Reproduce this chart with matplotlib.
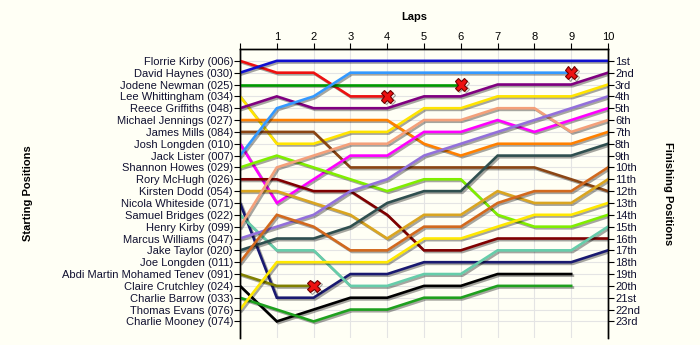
import numpy as np
import matplotlib
matplotlib.use('Agg')
import matplotlib.pyplot as plt
import matplotlib.patheffects as pe

plt.rcParams['font.family'] = ['Liberation Sans', 'DejaVu Sans']

laps = list(range(11))

names = ['Florrie Kirby (006)', 'David Haynes (030)', 'Jodene Newman (025)', 'Lee Whittingham (034)',
         'Reece Griffiths (048)', 'Michael Jennings (027)', 'James Mills (084)', 'Josh Longden (010)',
         'Jack Lister (007)', 'Shannon Howes (029)', 'Rory McHugh (026)', 'Kirsten Dodd (054)',
         'Nicola Whiteside (071)', 'Samuel Bridges (022)', 'Henry Kirby (099)', 'Marcus Williams (047)',
         'Jake Taylor (020)', 'Joe Longden (011)', 'Abdi Martin Mohamed Tenev (091)', 'Claire Crutchley (024)',
         'Charlie Barrow (033)', 'Thomas Evans (076)', 'Charlie Mooney (074)']

finish_labels = ['1st', '2nd', '3rd', '4th', '5th', '6th', '7th', '8th', '9th', '10th', '11th', '12th',
                 '13th', '14th', '15th', '16th', '17th', '18th', '19th', '20th', '21st', '22nd', '23rd']

# position at each lap (list stops when the runner stops)
florrie = [1, 2, 2, 4, 4]
david = [2, 1, 1, 1, 1, 1, 1, 1, 1, 1, 1]
jodene = [3, 3, 3, 3, 3, 3, 3]
lee = [4, 8, 8, 7, 7, 5, 5, 4, 4, 4, 3]
reece = [5, 4, 5, 5, 5, 4, 4, 3, 3, 3, 2]
michael = [6, 6, 6, 6, 6, 8, 9, 8, 8, 8, 7]
james = [7, 7, 7, 10, 10, 10, 10, 10, 10, 11, 12]
josh = [8, 13, 11, 9, 9, 7, 7, 6, 7, 6, 5]
jack = [9, 5, 4, 2, 2, 2, 2, 2, 2, 2]
shannon = [10, 9, 10, 11, 12, 11, 11, 14, 15, 15, 14]
rory = [11, 11, 12, 12, 14, 17, 17, 16, 16, 16, 16]
kirsten = [12, 12, 13, 14, 16, 14, 14, 12, 13, 13, 11]
nicola = [13, 21, 21, 19, 19, 18, 18, 18, 18, 18, 17]
samuel = [14, 17, 17, 20, 20, 19, 19, 17, 17, 17, 15]
henry = [15, 10, 9, 8, 8, 6, 6, 5, 5, 7, 6]
marcus = [16, 15, 14, 12, 11, 9, 8, 7, 6, 5, 4]
jake = [17, 16, 16, 15, 13, 12, 12, 9, 9, 9, 8]
joe = [18, 14, 15, 17, 17, 15, 15, 13, 12, 12, 10]
abdi = [19, 20, 20]
claire = [20, 23, 22, 21, 21, 20, 20, 19, 19, 19]
charlie_b = [21, 22, 23, 22, 22, 21, 21, 20, 20, 20]
thomas = [22, 18, 18, 18, 18, 16, 16, 15, 14, 14, 13]
charlie_m = []

series = [florrie, david, jodene, lee, reece, michael, james, josh, jack, shannon, rory, kirsten,
          nicola, samuel, henry, marcus, jake, joe, abdi, claire, charlie_b, thomas, charlie_m]

colors = ['#ee1111', '#1010d0', '#009a00', '#ffe400', '#800080', '#ff8000', '#8b4513', '#ff00ff',
          '#3399ff', '#80ee00', '#800000', '#daa520', '#191970', '#66cdaa', '#f4a07a', '#9370db',
          '#2f4f4f', '#d2691e', '#808000', '#000000', '#1ea01e', '#ffe800', '#888888']

retired = [True, False, True, False, False, False, False, False, True, False, False, False,
           False, False, False, False, False, False, True, False, False, False, False]

bg = '#fffff5'
fig = plt.figure(figsize=(7, 3.45), dpi=100, facecolor=bg)
ax = fig.add_axes([240/700, 1-338/345, 368/700, 289/345], facecolor=bg)

n = len(names)
shadow = [pe.SimpleLineShadow(offset=(1.2, -1.2), shadow_color='k', alpha=0.35), pe.Normal()]

for i in range(n):
    pos = series[i]
    if len(pos) == 0:
        continue
    ax.plot(laps[:len(pos)], pos, color=colors[i], lw=1.9, solid_joinstyle='miter',
            path_effects=shadow, zorder=3)
    if retired[i]:
        ax.plot(laps[len(pos)-1], pos[-1], marker='X', ms=9, mfc='#ee1111', mec='#700000',
                mew=0.8, zorder=5, path_effects=shadow)

ax.set_xlim(0, 10)
ax.set_ylim(24.4, 0)

ax.xaxis.tick_top()
ax.set_xticks(laps)
ax.set_xticklabels([''] + [str(l) for l in laps[1:]], fontsize=8)
ax.xaxis.set_label_position('top')
ax.set_xlabel('Laps', fontsize=8, fontweight='bold', va='center')
ax.xaxis.set_label_coords(0.473, 1.11)

ax.set_yticks(range(1, n+1))
ax.set_yticklabels(names, fontsize=8, color='#101030')
ax.set_ylabel('Starting Positions', fontsize=8, fontweight='bold', va='center')
ax.yaxis.set_label_coords(-0.576, 0.5)

ax.grid(True, color='#e4e4e4', lw=0.8, zorder=0)
ax.tick_params(axis='both', direction='out', length=4, width=0.8, pad=1)

ax2 = ax.twinx()
ax2.set_ylim(24.4, 0)
ax2.set_yticks(range(1, n+1))
ax2.set_yticklabels(finish_labels, fontsize=8, color='#101030')
ax2.tick_params(axis='y', direction='out', length=4, width=0.8, pad=1)
ax2.set_ylabel('Finishing Positions', fontsize=8, fontweight='bold', rotation=-90, va='center')
ax2.yaxis.set_label_coords(1.163, 0.5)

for a in (ax, ax2):
    a.spines['bottom'].set_visible(False)
    for s in ('top', 'left', 'right'):
        a.spines[s].set_linewidth(1.0)

fig.savefig('out.png', dpi=100, facecolor=bg)
